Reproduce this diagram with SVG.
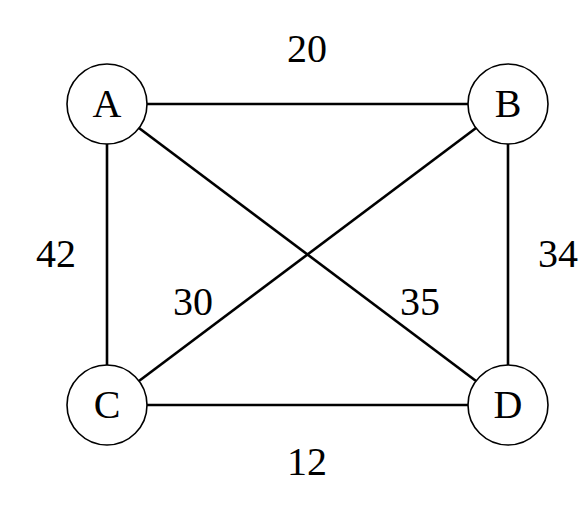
<svg xmlns="http://www.w3.org/2000/svg" width="588" height="513" viewBox="0 0 588 513">
<style>
.e{stroke:#000;stroke-width:2.6;fill:none}
.n circle{fill:#fff;stroke:#000;stroke-width:1.6}
text{font-family:"Liberation Serif","Times New Roman",serif;font-size:40px;fill:#000;text-anchor:middle}
</style>
<rect width="588" height="513" fill="#fff"/>
<g id="edges">
<line class="e" x1="107" y1="104" x2="508" y2="104"/>
<line class="e" x1="107" y1="104" x2="107" y2="405"/>
<line class="e" x1="508" y1="104" x2="508" y2="405"/>
<line class="e" x1="107" y1="405" x2="508" y2="405"/>
<line class="e" x1="107" y1="104" x2="508" y2="405"/>
<line class="e" x1="508" y1="104" x2="107" y2="405"/>
<text x="307" y="62">20</text>
<text x="56" y="267">42</text>
<text x="558" y="267">34</text>
<text x="193" y="315">30</text>
<text x="420" y="315">35</text>
<text x="307" y="475">12</text>
</g>
<g id="A" class="n"><circle cx="107" cy="104" r="40"/><text x="107" y="117">A</text></g>
<g id="B" class="n"><circle cx="508" cy="104" r="40"/><text x="508" y="117">B</text></g>
<g id="C" class="n"><circle cx="107" cy="405" r="40"/><text x="107" y="418">C</text></g>
<g id="D" class="n"><circle cx="508" cy="405" r="40"/><text x="508" y="418">D</text></g>
</svg>
